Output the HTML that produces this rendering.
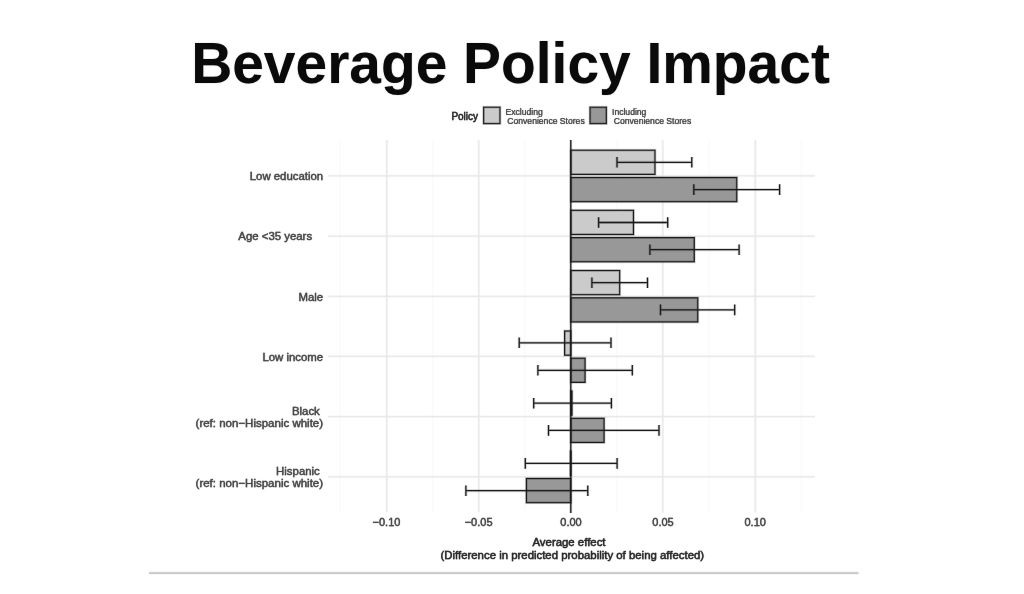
<!DOCTYPE html>
<html>
<head>
<meta charset="utf-8">
<title>Beverage Policy Impact</title>
<style>
  html, body { margin: 0; padding: 0; background: #ffffff; }
  body { width: 1024px; height: 594px; overflow: hidden; position: relative;
         font-family: "Liberation Sans", sans-serif; }
  svg { position: absolute; left: 0; top: 0; will-change: transform; }
  svg text { font-family: "Liberation Sans", sans-serif; }
</style>
</head>
<body>

<svg width="1024" height="594" viewBox="0 0 1024 594">
  <defs>
    <!-- major gridlines -->
    <g id="grid">
      <line x1="386.8" y1="140" x2="386.8" y2="512.5"/>
      <line x1="478.8" y1="140" x2="478.8" y2="512.5"/>
      <line x1="662.8" y1="140" x2="662.8" y2="512.5"/>
      <line x1="755.2" y1="140" x2="755.2" y2="512.5"/>
      <line x1="328" y1="175.8" x2="815" y2="175.8"/>
      <line x1="328" y1="236.2" x2="815" y2="236.2"/>
      <line x1="328" y1="296.4" x2="815" y2="296.4"/>
      <line x1="328" y1="356.4" x2="815" y2="356.4"/>
      <line x1="328" y1="416.6" x2="815" y2="416.6"/>
      <line x1="328" y1="476.8" x2="815" y2="476.8"/>
    </g>
    <!-- light bars (Excluding) -->
    <g id="lb">
      <rect x="570.8" y="150.2" width="84.2" height="24.2"/>
      <rect x="570.8" y="210.3" width="62.7" height="24.2"/>
      <rect x="570.8" y="270.5" width="48.9" height="24.2"/>
      <rect x="564.6" y="331" width="6.2" height="24.2"/>
      <rect x="570.8" y="391" width="1.2" height="24.2"/>
      <rect x="570.4" y="451.2" width="0.6" height="24.2"/>
    </g>
    <!-- dark bars (Including) -->
    <g id="db">
      <rect x="570.8" y="177.5" width="166" height="24.2"/>
      <rect x="570.8" y="237.6" width="123.5" height="24.2"/>
      <rect x="570.8" y="297.8" width="127" height="24.2"/>
      <rect x="570.8" y="358.2" width="14.3" height="24.2"/>
      <rect x="570.8" y="418.3" width="33.3" height="24.2"/>
      <rect x="526.4" y="478.5" width="44.4" height="24.2"/>
    </g>
    <!-- zero line + error bars -->
    <g id="eb">
      <line x1="570.8" y1="140" x2="570.8" y2="513"/>
      <path d="M617 162.3H691.8M617 157v10.6M691.8 157v10.6"/>
      <path d="M693.8 189.6H779.6M693.8 184.3v10.6M779.6 184.3v10.6"/>
      <path d="M598.6 222.5H667.7M598.6 217.2v10.6M667.7 217.2v10.6"/>
      <path d="M649.9 249.7H739.1M649.9 244.4v10.6M739.1 244.4v10.6"/>
      <path d="M591.9 282.7H647.5M591.9 277.4v10.6M647.5 277.4v10.6"/>
      <path d="M660.5 309.9H734.7M660.5 304.6v10.6M734.7 304.6v10.6"/>
      <path d="M519.2 342.8H611M519.2 337.5v10.6M611 337.5v10.6"/>
      <path d="M537.9 370.3H632.3M537.9 365v10.6M632.3 365v10.6"/>
      <path d="M533.7 403.2H611.4M533.7 397.9v10.6M611.4 397.9v10.6"/>
      <path d="M548.5 430.4H659M548.5 425.1v10.6M659 425.1v10.6"/>
      <path d="M525.3 463.4H617.1M525.3 458.1v10.6M617.1 458.1v10.6"/>
      <path d="M465.9 490.7H587.8M465.9 485.4v10.6M587.8 485.4v10.6"/>
    </g>
    <!-- legend swatches -->
    <rect id="sw1" x="483.6" y="107.2" width="16.4" height="16.4"/>
    <rect id="sw2" x="590" y="107.2" width="16.4" height="16.4"/>
  </defs>

  <!-- title -->
  <text id="ttl" x="510.5" y="0" transform="translate(0,82.8) scale(1,1.015)" text-anchor="middle" font-size="56.9" font-weight="bold" fill="#0a0a0a" style="text-shadow:0 0 1.2px rgba(10,10,10,0.4)">Beverage Policy Impact</text>

  <!-- minor vertical gridlines -->
  <g stroke="#fafafa" stroke-width="1.4">
    <line x1="340.3" y1="140" x2="340.3" y2="512.5"/>
    <line x1="432.5" y1="140" x2="432.5" y2="512.5"/>
    <line x1="524.7" y1="140" x2="524.7" y2="512.5"/>
    <line x1="616.9" y1="140" x2="616.9" y2="512.5"/>
    <line x1="709.1" y1="140" x2="709.1" y2="512.5"/>
    <line x1="801.3" y1="140" x2="801.3" y2="512.5"/>
  </g>

  <!-- major gridlines: soft halo + core -->
  <use href="#grid" stroke="#e8e8e8" stroke-width="2.8" stroke-opacity="0.3"/>
  <use href="#grid" stroke="#e9e9e9" stroke-width="1.3"/>

  <!-- bars -->
  <use href="#lb" fill="#cbcbcb" stroke="#1c1c1c" stroke-width="1.2"/>
  <use href="#db" fill="#989898" stroke="#1c1c1c" stroke-width="1.2"/>
  <use href="#lb" fill="none" stroke="#1c1c1c" stroke-width="2.8" stroke-opacity="0.2"/>
  <use href="#db" fill="none" stroke="#1c1c1c" stroke-width="2.8" stroke-opacity="0.2"/>

  <!-- zero line + error bars -->
  <use href="#eb" fill="none" stroke="#1c1c1c" stroke-width="2.9" stroke-opacity="0.2"/>
  <use href="#eb" fill="none" stroke="#1c1c1c" stroke-width="1.3"/>

  <!-- y axis labels -->
  <g fill="#484848" stroke="#484848" stroke-width="0.3" text-anchor="end" style="text-shadow:0 0 1px rgba(72,72,72,0.6)">
    <g font-size="11.4">
      <text x="323.2" y="180.3">Low education</text>
      <text x="312.1" y="240.1">Age &lt;35 years</text>
      <text x="323.2" y="300.5">Male</text>
      <text x="323.2" y="360.6">Low income</text>
      <text x="319.8" y="415.2">Black</text>
      <text x="319.8" y="475.2">Hispanic</text>
    </g>
    <g font-size="11.5">
      <text x="323.1" y="426.9">(ref: non&#8722;Hispanic white)</text>
      <text x="323.1" y="486.9">(ref: non&#8722;Hispanic white)</text>
    </g>
  </g>

  <!-- x tick labels -->
  <g font-size="11" fill="#484848" stroke="#484848" stroke-width="0.3" text-anchor="middle" style="text-shadow:0 0 1px rgba(72,72,72,0.6)">
    <text x="386.5" y="526">&#8722;0.10</text>
    <text x="478.6" y="526">&#8722;0.05</text>
    <text x="571" y="526">0.00</text>
    <text x="663" y="526">0.05</text>
    <text x="755.2" y="526">0.10</text>
  </g>

  <!-- x axis title -->
  <g font-size="11.4" fill="#2a2a2a" stroke="#2a2a2a" stroke-width="0.35" text-anchor="middle" style="text-shadow:0 0 1px rgba(42,42,42,0.55)">
    <text x="569" y="545.8">Average effect</text>
    <text x="572.3" y="559">(Difference in predicted probability of being affected)</text>
  </g>

  <!-- legend -->
  <text x="451.4" y="119.8" font-size="10" fill="#2a2a2a" stroke="#2a2a2a" stroke-width="0.4" style="text-shadow:0 0 0.9px rgba(42,42,42,0.45)">Policy</text>
  <use href="#sw1" fill="#cbcbcb" stroke="#2a2a2a" stroke-width="1.3"/>
  <use href="#sw2" fill="#989898" stroke="#2a2a2a" stroke-width="1.3"/>
  <use href="#sw1" fill="none" stroke="#2a2a2a" stroke-width="2.8" stroke-opacity="0.2"/>
  <use href="#sw2" fill="none" stroke="#2a2a2a" stroke-width="2.8" stroke-opacity="0.2"/>
  <g font-size="8.6" fill="#484848" stroke="#484848" stroke-width="0.2" style="text-shadow:0 0 0.9px rgba(72,72,72,0.55)">
    <text x="505.5" y="114.9">Excluding</text>
    <text x="507.3" y="123.5">Convenience Stores</text>
    <text x="612" y="114.9">Including</text>
    <text x="613.8" y="123.5">Convenience Stores</text>
  </g>

  <!-- bottom rule -->
  <line x1="149" y1="573.1" x2="858.4" y2="573.1" stroke="#c6c6c6" stroke-width="3" stroke-opacity="0.3"/>
  <line x1="149" y1="573.1" x2="858.4" y2="573.1" stroke="#c8c8c8" stroke-width="1.6"/>
</svg>
</body>
</html>
